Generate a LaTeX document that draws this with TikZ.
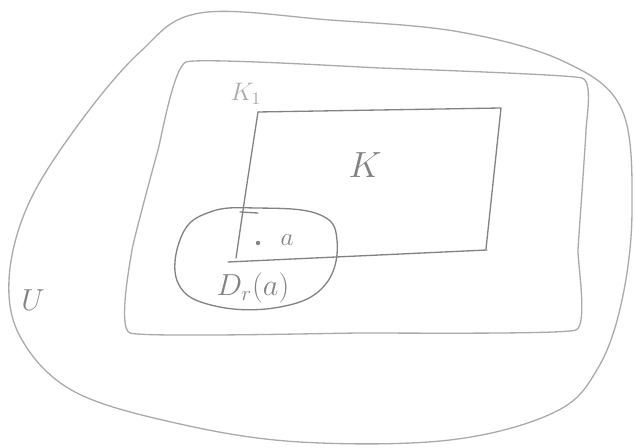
\documentclass[tikz,border=0pt]{standalone}
\usepackage{amsmath,amssymb}
\usepackage{tikz}
\usetikzlibrary{calc}
\definecolor{pencil}{RGB}{130,130,130}
\definecolor{lightpencil}{RGB}{170,170,170}

\begin{document}
\begin{tikzpicture}[x=0.02cm,y=-0.02cm,line width=0.75pt,line cap=round,line join=round]
\useasboundingbox (0,0) rectangle (635,448);
% U
\draw[lightpencil] plot[smooth cycle,tension=0.6] coordinates {(200,13) (330,20) (460,32) (565,62) (622,110) (632,210) (622,300) (598,368) (555,412) (450,440) (300,442) (180,424) (75,392) (22,340) (9,280) (28,205) (78,125) (140,52)};
% K1
\draw[lightpencil] plot[smooth cycle,tension=0.2] coordinates {(186,62) (380,68) (582,78) (586,130) (578,250) (576,330) (360,333) (130,333) (132,250) (158,150)};
% K
\draw[pencil] (258,112) -- (501,108) -- (486,249);
\draw[pencil] (228,262) -- (487,250);
\draw[pencil] (258,112) -- (246,190) -- (236,258);
\draw[pencil] (240,212) -- (258,213);
% D_r(a)
\draw[pencil] plot[smooth cycle,tension=0.7] coordinates {(256,208) (318,214) (337,240) (325,285) (280,307) (215,306) (178,283) (182,235) (210,212)};
\fill[pencil] (258,243) circle (2.2);
\node[pencil] (a) at (287,240) {\Large$a$};
\node[pencil] (Dra) at (253,288) {\LARGE$D_r(a)$};
\node[pencil] (K) at (365,165) {\huge$K$};
\node[lightpencil] (K1) at (246,94) {\Large$K_1$};
\node[pencil] (U) at (33,300) {\LARGE$U$};
\end{tikzpicture}
\end{document}
